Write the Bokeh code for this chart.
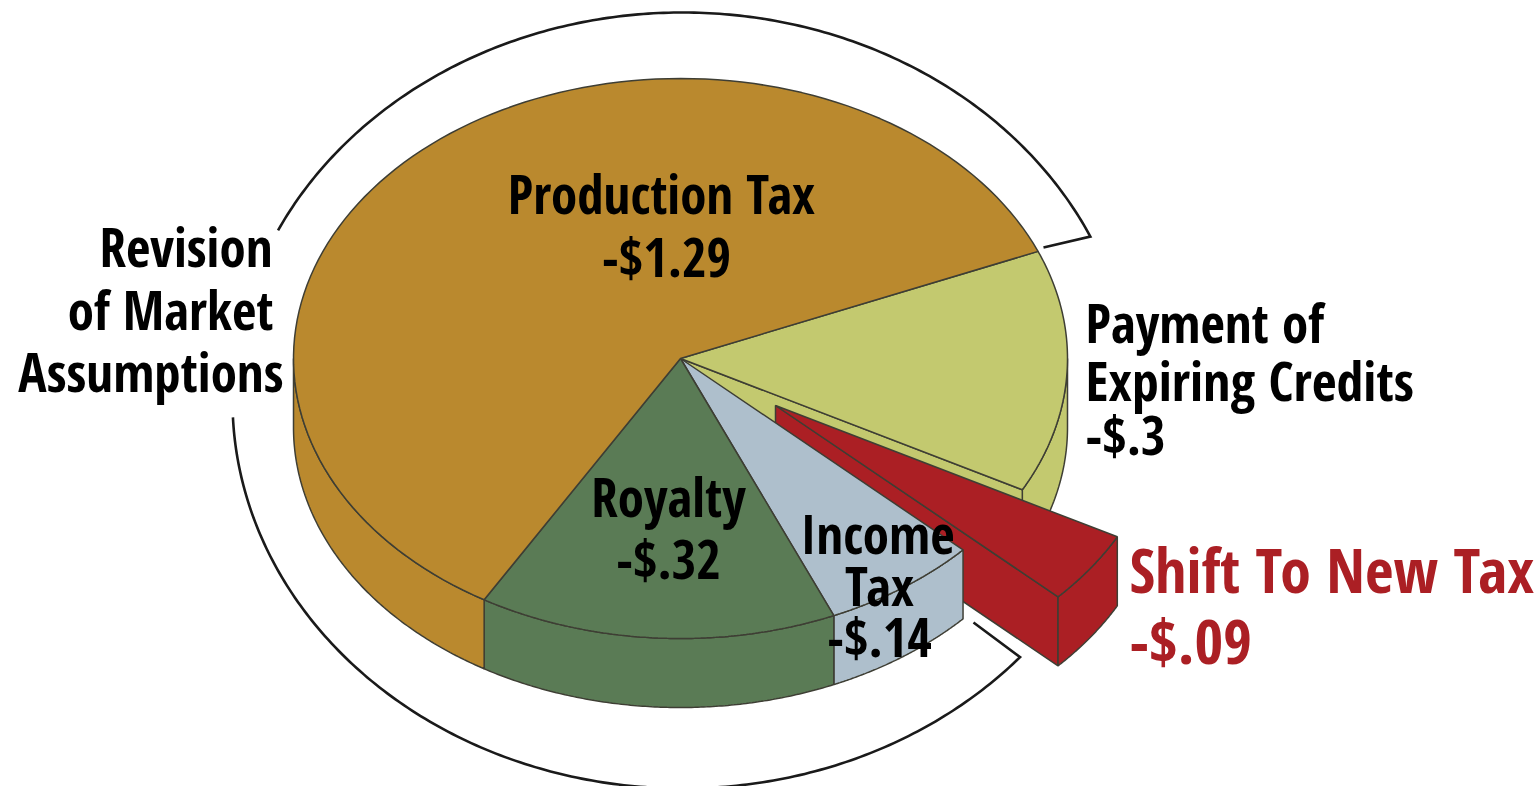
import numpy as np
from bokeh.plotting import figure
from bokeh.models import Range1d
from bokeh.core.properties import value
from bokeh.embed import file_html
from bokeh.resources import INLINE

categories = ["Production Tax", "Royalty", "Income Tax", "Shift To New Tax", "Payment of Expiring Credits"]
values = [1.29, 0.32, 0.14, 0.09, 0.30]
colors = ["#BA892E", "#5A7B55", "#AEBFCC", "#AB1F24", "#C3C96F"]

W, H = 1537, 786
CX, CY, RX, RY, DEPTH = 680, 358, 387, 280, 69
START = 22.5
EXPLODE = (95, 47)
LINE = "#3e3e34"
LW = 1.5

p = figure(width=W, height=H, output_backend="svg", toolbar_location=None,
           x_range=Range1d(0, W), y_range=Range1d(H, 0),
           min_border=0, outline_line_color=None)
p.axis.visible = False
p.grid.visible = False

total = sum(values)
edges = [START]
for v in values:
    edges.append(edges[-1] + v / total * 360)
spans = {c: (edges[i], edges[i + 1]) for i, c in enumerate(categories)}
col = dict(zip(categories, colors))


def arc(t0, t1, dx=0, dy=0, cx=CX, cy=CY, rx=RX, ry=RY, n=120):
    t = np.radians(np.linspace(t0, t1, n))
    return cx + dx + rx * np.cos(t), cy + dy - ry * np.sin(t)


def top(cat, dx=0, dy=0):
    t0, t1 = spans[cat]
    x, y = arc(t0, t1, dx, dy)
    p.patch(np.r_[CX + dx, x], np.r_[CY + dy, y], fill_color=col[cat],
            line_color=LINE, line_width=LW)


def side(cat, t0, t1, dx=0, dy=0):
    x, y = arc(t0, t1, dx, dy)
    p.patch(np.r_[x, x[::-1]], np.r_[y, y[::-1] + DEPTH], fill_color=col[cat],
            line_color=LINE, line_width=LW)


# back-to-front painting
credits_ = categories[4]
t0, t1 = spans[credits_]
side(credits_, t0, 360)
ax, ay = arc(t0, t0, n=1)
p.patch([CX, ax[0], ax[0], CX], [CY, ay[0], ay[0] + DEPTH, CY + DEPTH],
        fill_color=col[credits_], line_color=LINE, line_width=LW)
top(credits_)

# exploded slice
shift = categories[3]
dx, dy = EXPLODE
s0, s1 = spans[shift]
bx, by = arc(s0, s0, dx, dy, n=1)
p.patch([CX + dx, bx[0], bx[0], CX + dx], [CY + dy, by[0], by[0] + DEPTH, CY + dy + DEPTH],
        fill_color=col[shift], line_color=LINE, line_width=LW)
side(shift, s0, s1, dx, dy)
top(shift, dx, dy)

income = categories[2]
i0, i1 = spans[income]
side(income, i0, i1)
top(income)
royalty = categories[1]
r0, r1 = spans[royalty]
side(royalty, r0, r1)
top(royalty)
prod = categories[0]
q0, q1 = spans[prod]
side(prod, 180, q1)
top(prod)

# bracket around the market-assumption slices
BX, BY, BRX, BRY = 682, 400, 450, 388
x, y = arc(25, 154, cx=BX, cy=BY, rx=BRX, ry=BRY, n=200)
p.line(np.r_[1043, x], np.r_[247, y], line_color="#1a1a1a", line_width=2.6, line_join="miter")
x, y = arc(182.5, 318.6, cx=BX, cy=BY, rx=BRX, ry=BRY, n=200)
p.line(np.r_[x, 973], np.r_[y, 622], line_color="#1a1a1a", line_width=2.6, line_join="miter")

FONT = value("Open Sans Condensed")
labels = [
    ("Production Tax", 661, 193, "center", "black", 53),
    ("-$1.29", 666, 256, "center", "black", 53),
    ("Royalty", 668, 496, "center", "black", 53),
    ("-$.32", 668, 558, "center", "black", 53),
    ("Income", 877, 533, "center", "black", 53),
    ("Tax", 879, 585, "center", "black", 53),
    ("-$.14", 879, 636, "center", "black", 53),
    ("Revision", 272, 246, "right", "black", 53),
    ("of Market", 273, 309, "right", "black", 53),
    ("Assumptions", 283, 371, "right", "black", 53),
    ("Payment of", 1085, 322, "left", "black", 53),
    ("Expiring Credits", 1085, 379, "left", "black", 54),
    ("-$.3", 1085, 434, "left", "black", 53),
    ("Shift To New Tax", 1129, 568, "left", "#AB1F24", 62),
    ("-$.09", 1129, 639, "left", "#AB1F24", 62),
]
for txt, lx, ly, al, c, fs in labels:
    p.text([lx], [ly], text=[txt], text_align=al, text_baseline="middle", text_color=c,
           text_font=FONT, text_font_style="bold", text_font_size=f"{fs}px")

open("out.html", "w").write(file_html(p, INLINE))
